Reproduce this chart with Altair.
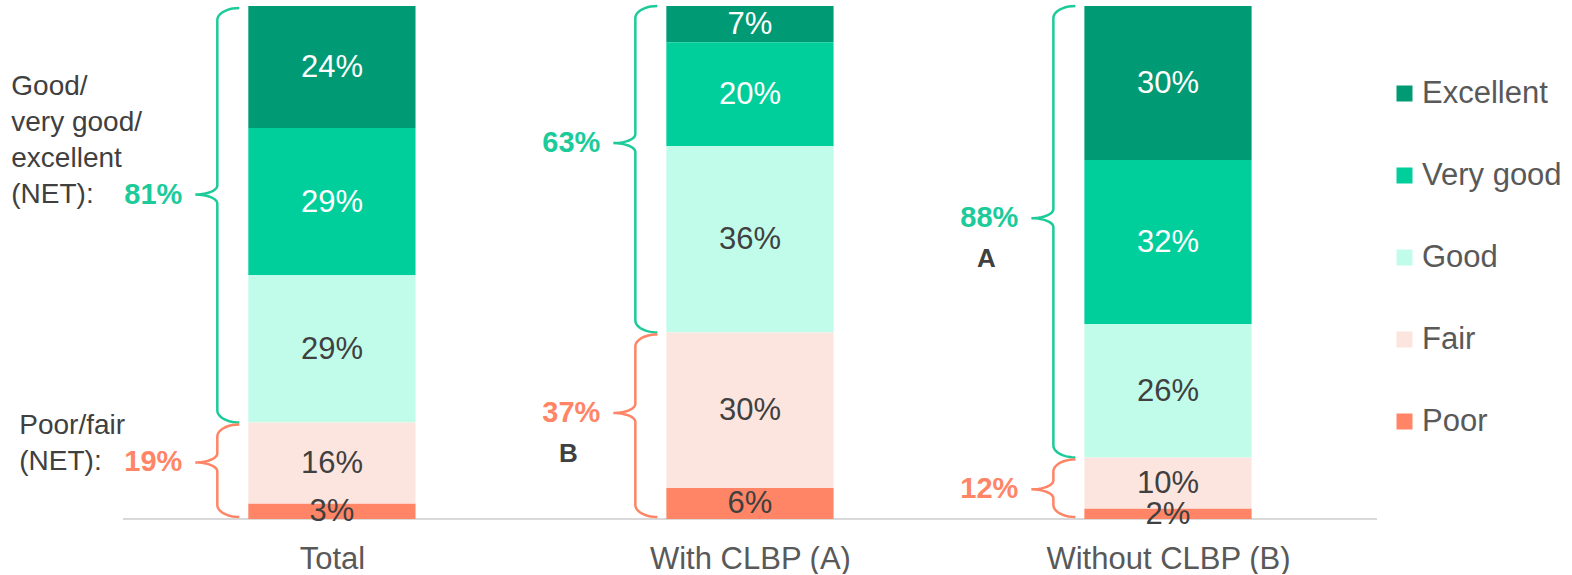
import math
import altair as alt
import pandas as pd

# ---------------- data ----------------
cats = ["Total", "With CLBP (A)", "Without CLBP (B)"]
levels = ["Excellent", "Very good", "Good", "Fair", "Poor"]
excellent = [24, 7, 30]
very_good = [29, 20, 32]
good = [29, 36, 26]
fair = [16, 30, 10]
poor = [3, 6, 2]
net_good = [81, 63, 88]
net_poor = [19, 37, 12]
sig_good = ["", "", "A"]
sig_poor = ["", "B", ""]

# ---------------- style ----------------
level_colors = ["#009A74", "#00CF9C", "#C1FCEB", "#FDE5DF", "#FF8566"]
label_colors = ["#FFFFFF", "#FFFFFF", "#404040", "#404040", "#404040"]
GREEN = "#1CCB99"
ORANGE = "#FF8566"
DARK = "#404040"
AXIS_GREY = "#595959"
FONT = "Liberation Sans"

PX_X = 418.0
PX_Y = 513.0
X0 = -0.794
X1 = 2.5
Y1 = 1 + 6 / PX_Y
BAR_HALF = 0.2
W = round((X1 - X0) * PX_X)
H = round(Y1 * PX_Y)

tip_frac_good = [0.45, 0.42, 0.47]
tip_frac_poor = [0.41, 0.43, 0.52]

# ---------------- tables ----------------
series = [excellent, very_good, good, fair, poor]
rows = []
for j, (lev, vals) in enumerate(zip(levels, series)):
    for i, c in enumerate(cats):
        rows.append({"cat": c, "xc": i, "level": lev, "rank": len(levels) - 1 - j,
                     "value": vals[i], "lbl": f"{vals[i]}%", "tcol": label_colors[j]})
df = pd.DataFrame(rows)

xscale = alt.Scale(domain=[X0, X1], nice=False, zero=False)
yscale = alt.Scale(domain=[0, Y1], nice=False, zero=False)
label_expr = "[" + ",".join(f"'{c}'" for c in cats) + "][datum.value]"
xaxis = alt.Axis(values=list(range(len(cats))), labelExpr=label_expr, title=None,
                 domain=False, ticks=False, grid=False, labelFontSize=31,
                 labelFont=FONT, labelColor=AXIS_GREY, labelPadding=25,
                 labelFlush=False, labelOverlap=False, labelLimit=0)

base = alt.Chart(df).transform_joinaggregate(
    total="sum(value)", groupby=["cat"]
).transform_stack(
    stack="value", groupby=["cat"], sort=[alt.SortField("rank", order="ascending")],
    as_=["y0", "y1"]
).transform_calculate(
    y0n="datum.y0 / datum.total",
    y1n="datum.y1 / datum.total",
    mid="(datum.y0 + datum.y1) / 2 / datum.total",
    xl=f"datum.xc - {BAR_HALF}",
    xr=f"datum.xc + {BAR_HALF}",
)

bars = base.mark_bar().encode(
    x=alt.X("xl:Q", scale=xscale, axis=xaxis),
    x2="xr:Q",
    y=alt.Y("y0n:Q", scale=yscale, axis=None),
    y2="y1n:Q",
    color=alt.Color("level:N", scale=alt.Scale(domain=levels, range=level_colors),
                    legend=alt.Legend(title=None, orient="none", legendX=1389, legendY=78,
                                      symbolType="square", symbolSize=256,
                                      symbolStrokeWidth=0, labelFontSize=31,
                                      labelFont=FONT, labelColor=AXIS_GREY,
                                      rowPadding=50, labelOffset=2, padding=0,
                                      labelLimit=0)),
)

values_txt = base.mark_text(fontSize=31, font=FONT, baseline="middle", dy=1).encode(
    x=alt.X("xc:Q", scale=xscale, axis=xaxis),
    y=alt.Y("mid:Q", scale=yscale, axis=None),
    text="lbl:N",
    color=alt.Color("tcol:N", scale=None),
)

# baseline rule
base_df = pd.DataFrame({"xa": [-0.5], "xb": [len(cats) - 0.5], "y": [0.0]})
baseline = alt.Chart(base_df).mark_rule(color="#D9D9D9", strokeWidth=2).encode(
    x=alt.X("xa:Q", scale=xscale, axis=xaxis), x2="xb:Q",
    y=alt.Y("y:Q", scale=yscale, axis=None),
)

# braces
def arc(cx, cy, rx, ry, a0, a1, n=10):
    pts = []
    for k in range(n + 1):
        t = math.radians(a0 + (a1 - a0) * k / n)
        pts.append((cx + rx * math.cos(t), cy + ry * math.sin(t)))
    return pts

brace_rows = []
ann_rows = []
bold_rows = []
ry = 12 / PX_Y
r2 = 9 / PX_Y
for i, c in enumerate(cats):
    tot = excellent[i] + very_good[i] + good[i] + fair[i] + poor[i]
    split = (fair[i] + poor[i]) / tot
    xl = i - BAR_HALF
    hookx = xl - 9 / PX_X
    vertx = xl - 31 / PX_X
    tipx = xl - 53 / PX_X
    spans = [
        ("g", 1 - 2 / PX_Y * (1 if i == 0 else 0), split, tip_frac_good[i], GREEN,
         net_good[i], sig_good[i]),
        ("p", split - 2 / PX_Y, 2 / PX_Y, tip_frac_poor[i], ORANGE, net_poor[i], sig_poor[i]),
    ]
    for key, top, bot, tf, col, net, sig in spans:
        tip = top - tf * (top - bot)
        pts = []
        pts += arc(hookx, top - ry, hookx - vertx, ry, 90, 180)
        pts += arc(tipx, tip + r2, vertx - tipx, r2, 0, -90)
        pts += arc(tipx, tip - r2, vertx - tipx, r2, 90, 0)
        pts += arc(hookx, bot + ry, hookx - vertx, ry, 180, 270)
        for k, (px, py) in enumerate(pts):
            brace_rows.append({"bid": f"{key}{i}", "ord": k, "bx": px, "by": py, "bcol": col})
        bold_rows.append({"x": tipx - 13 / PX_X, "y": tip, "t": f"{net}%", "col": col,
                          "al": "right", "fs": 29})
        if sig:
            bold_rows.append({"x": tipx - 45 / PX_X, "y": tip - 41 / PX_Y, "t": sig,
                              "col": DARK, "al": "center", "fs": 26})
        if i == 0:
            lines = ["Good/", "very good/", "excellent", "(NET):"] if key == "g" else ["Poor/fair", "(NET):"]
            lx = xl - (237 if key == "g" else 229) / PX_X
            for n_, ln in enumerate(lines):
                ann_rows.append({"x": lx, "y": tip + (len(lines) - 1 - n_) * 36 / PX_Y, "t": ln})

braces = alt.Chart(pd.DataFrame(brace_rows)).mark_line(strokeWidth=2.5).encode(
    x=alt.X("bx:Q", scale=xscale, axis=xaxis),
    y=alt.Y("by:Q", scale=yscale, axis=None),
    detail="bid:N",
    order="ord:Q",
    color=alt.Color("bcol:N", scale=None),
)

ann = alt.Chart(pd.DataFrame(ann_rows)).mark_text(
    fontSize=28, font=FONT, align="left", baseline="middle", color=DARK
).encode(
    x=alt.X("x:Q", scale=xscale, axis=xaxis),
    y=alt.Y("y:Q", scale=yscale, axis=None),
    text="t:N",
)

bdf = pd.DataFrame(bold_rows)
bold_layers = []
for al in ["right", "center"]:
    sub = bdf[bdf["al"] == al]
    bold_layers.append(
        alt.Chart(sub).mark_text(font=FONT, fontWeight="bold", align=al, baseline="middle",
                                 fontSize=int(sub["fs"].iloc[0])).encode(
            x=alt.X("x:Q", scale=xscale, axis=xaxis),
            y=alt.Y("y:Q", scale=yscale, axis=None),
            text="t:N",
            color=alt.Color("col:N", scale=None),
        )
    )

chart = alt.layer(baseline, bars, values_txt, braces, ann, *bold_layers).resolve_scale(
    color="independent"
).properties(
    width=W, height=H, padding=0, background="white"
).configure_view(stroke=None)

chart.save("out.html", embed_options={"renderer": "svg", "actions": False})
